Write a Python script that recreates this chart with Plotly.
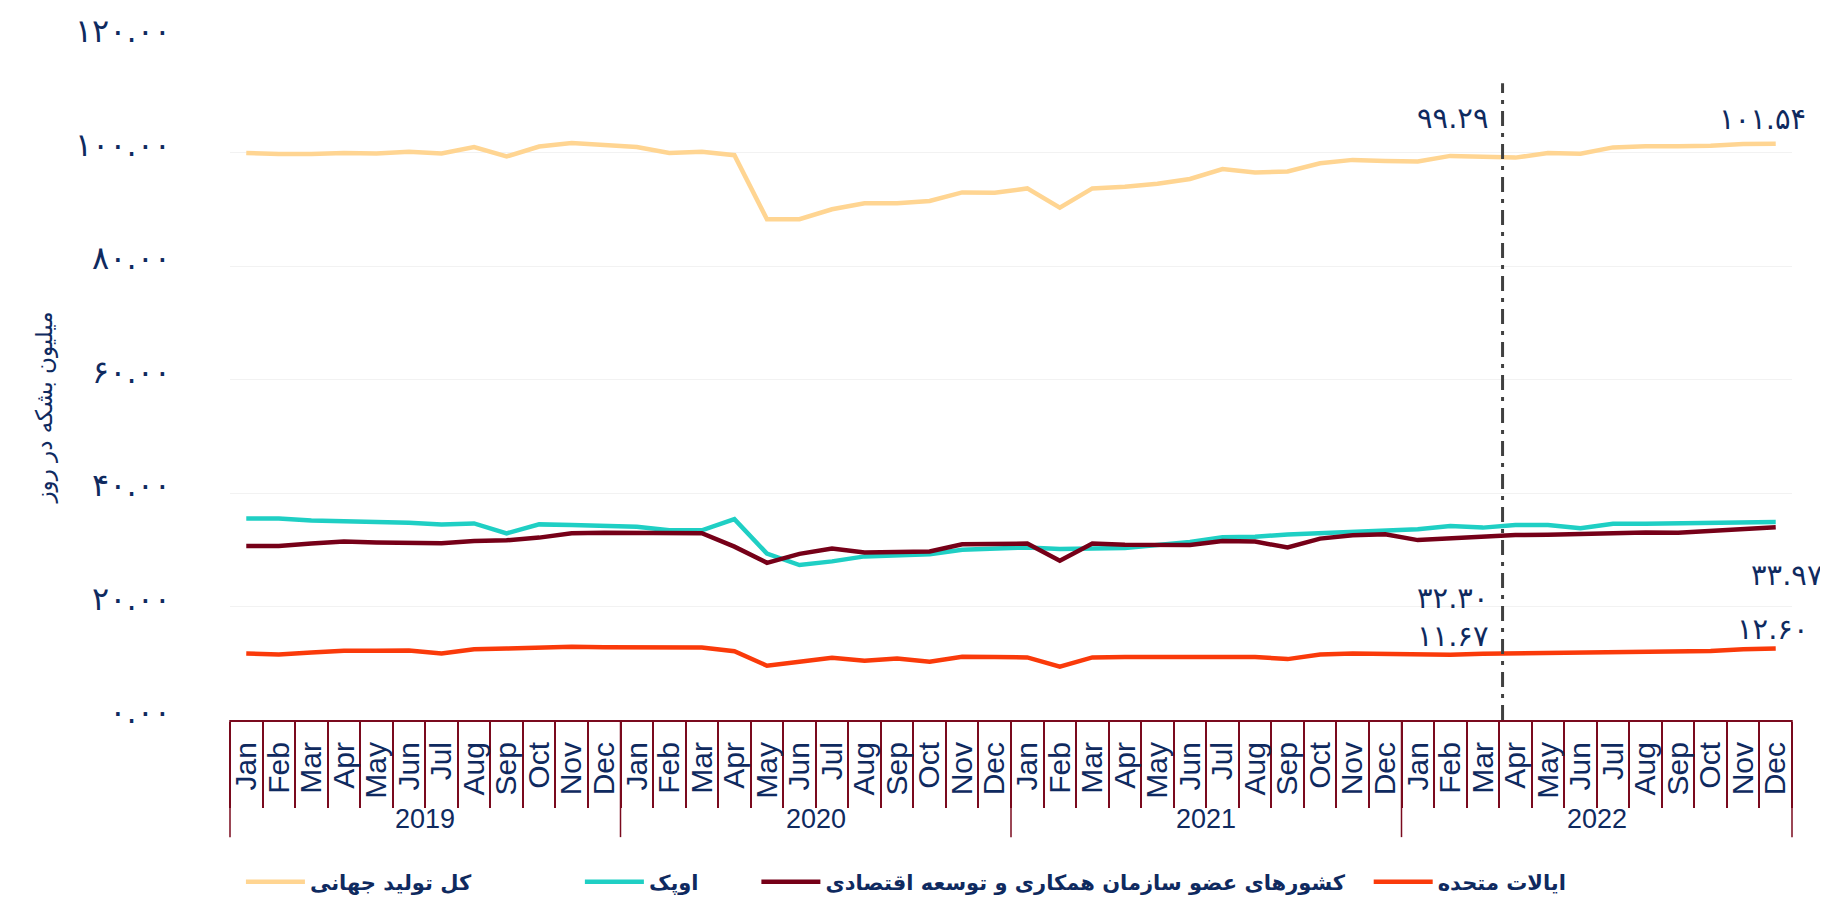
import plotly.graph_objects as go

years = ["2019", "2020", "2021", "2022"]
months = ["Jan", "Feb", "Mar", "Apr", "May", "Jun",
          "Jul", "Aug", "Sep", "Oct", "Nov", "Dec"]

world = [99.93, 99.72, 99.72, 99.93, 99.83, 100.13, 99.83, 100.95, 99.30, 101.05, 101.66, 101.36,
         100.95, 99.93, 100.13, 99.52, 88.24, 88.24, 90.00, 91.04, 91.04, 91.45, 92.97, 92.90,
         93.67, 90.28, 93.67, 93.96, 94.50, 95.34, 97.07, 96.46, 96.66, 98.09, 98.70, 98.50,
         98.40, 99.40, 99.29, 99.10, 99.90, 99.80, 100.90, 101.10, 101.10, 101.20, 101.50, 101.54]
opec = [35.52, 35.52, 35.17, 35.05, 34.76, 34.76, 34.47, 34.64, 32.89, 34.47, 34.35, 34.29,
        34.06, 33.42, 33.42, 35.40, 29.32, 27.30, 27.95, 28.83, 29.00, 29.20, 30.00, 30.15,
        30.40, 30.15, 30.20, 30.30, 30.85, 31.35, 32.20, 32.30, 32.70, 32.90, 33.13, 33.40,
        33.60, 34.20, 33.90, 34.35, 34.35, 33.80, 34.60, 34.60, 34.70, 34.75, 34.85, 34.90]
oecd = [30.68, 30.68, 31.09, 31.44, 31.26, 31.20, 31.15, 31.55, 31.67, 32.14, 32.90, 33.00,
        33.00, 32.90, 32.90, 30.55, 27.70, 29.27, 30.20, 29.50, 29.55, 29.70, 30.97, 31.00,
        31.08, 28.05, 31.10, 30.90, 30.90, 30.85, 31.55, 31.44, 30.39, 31.96, 32.54, 32.72,
        31.70, 32.00, 32.30, 32.60, 32.65, 32.85, 32.95, 33.05, 33.00, 33.30, 33.75, 33.97]
us = [11.72, 11.55, 11.90, 12.19, 12.22, 12.25, 11.72, 12.48, 12.60, 12.77, 12.89, 12.83,
      12.77, 12.77, 12.77, 12.13, 9.57, 10.27, 10.97, 10.44, 10.85, 10.27, 11.14, 11.08,
      11.02, 9.39, 11.02, 11.10, 11.10, 11.14, 11.14, 11.10, 10.73, 11.55, 11.72, 11.60,
      11.43, 11.50, 11.67, 11.75, 11.80, 11.85, 11.95, 12.05, 12.10, 12.15, 12.45, 12.60]

series_names = ["کل تولید جهانی", "اوپک",
                "کشورهای عضو سازمان همکاری و توسعه اقتصادی", "ایالات متحده"]
y_ticks = [0, 20, 40, 60, 80, 100, 120]
y_title = "میلیون بشکه در روز"

FA = str.maketrans("0123456789", "۰۱۲۳۴۵۶۷۸۹")


def fa(v):
    return f"{v:.2f}".translate(FA)


NAVY = "#0f2a5f"
MAROON = "#7a0a1e"
colors = ["#ffd592", "#1fcfc4", "#760018", "#fa3a0a"]
series = [world, opec, oecd, us]
legend_x = [0.007, 0.224, 0.337, 0.729]

# one slot per month, labelled with the month name; years are written under them
month_labels = [m for _ in years for m in months]
x_idx = list(range(len(month_labels)))
n_m = len(months)

fig = go.Figure()
for i, (name, vals, col) in enumerate(zip(series_names, series, colors)):
    fig.add_trace(
        go.Scatter(
            x=x_idx,
            y=vals,
            mode="lines",
            name=name,
            showlegend=True,
            line=dict(color=col, width=4.5),
            legend="legend" if i == 0 else f"legend{i + 1}",
        )
    )

# year row: labels and the dividers between years
for j, yr in enumerate(years):
    fig.add_annotation(x=j * n_m + (n_m - 1) / 2, xref="x", y=-0.146, yref="paper",
                       text=yr, showarrow=False, yanchor="middle",
                       font=dict(family="Liberation Sans", size=27, color=NAVY))
for j in range(1, len(years)):
    fig.add_shape(type="line", xref="x", yref="paper", x0=j * n_m - 0.5, x1=j * n_m - 0.5,
                  y0=0, y1=-0.172, line=dict(color=MAROON, width=1.5))
for xe in (0, 1):
    fig.add_shape(type="line", xref="paper", yref="paper", x0=xe, x1=xe,
                  y0=0, y1=-0.172, line=dict(color=MAROON, width=1.5))

# vertical marker between Mar and Apr 2022
fig.add_shape(type="line", xref="paper", yref="paper", x0=0.8147, x1=0.8147,
              y0=0, y1=0.935, line=dict(color="#404040", width=3, dash="15px,7px,4px,7px"))

# value labels
ann_font = dict(family="DejaVu Sans", size=29, color=NAVY)
labels = [
    (world, 38, 0.807, 6.8),
    (oecd, 38, 0.807, -10.8),
    (us, 38, 0.807, 3.2),
    (world, 47, 1.010, 4.4),
    (oecd, 47, 1.021, -8.5),
    (us, 47, 1.012, 3.4),
]
for vals, idx, xp, off in labels:
    fig.add_annotation(x=xp, xref="paper", xanchor="right", y=vals[idx] + off, yref="y",
                       yanchor="middle", text=fa(vals[idx]), showarrow=False, font=ann_font)

# y axis title
fig.add_annotation(x=-0.119, y=0.459, xref="paper", yref="paper", text=y_title,
                   textangle=-90, showarrow=False, xanchor="center", yanchor="middle",
                   font=dict(family="DejaVu Sans", size=23, color=NAVY))

leg_common = dict(orientation="h", yanchor="middle", y=-0.238, xanchor="left",
                  bgcolor="rgba(0,0,0,0)", itemwidth=59,
                  font=dict(family="DejaVu Sans", size=21, color=NAVY, weight="bold"))
fig.update_layout(
    width=1828,
    height=906,
    paper_bgcolor="white",
    plot_bgcolor="white",
    showlegend=True,
    margin=dict(l=222, r=44, t=31, b=186),
    legend=dict(x=legend_x[0], **leg_common),
    legend2=dict(x=legend_x[1], **leg_common),
    legend3=dict(x=legend_x[2], **leg_common),
    legend4=dict(x=legend_x[3], **leg_common),
)
fig.update_xaxes(
    range=[-0.5, len(month_labels) - 0.5],
    automargin=False,
    tickmode="array", tickvals=x_idx, ticktext=month_labels,
    ticks="",
    ticklabelstandoff=8,
    tickangle=-90,
    tickfont=dict(family="Liberation Sans", size=30, color=NAVY),
    showline=True, linecolor=MAROON, linewidth=2,
    minor=dict(tickmode="linear", tick0=-0.5, dtick=1, ticks="outside", ticklen=86,
               tickcolor=MAROON, tickwidth=1.5, showgrid=False),
    showgrid=False, zeroline=False,
)
fig.update_yaxes(
    range=[0, 120],
    automargin=False,
    tickvals=y_ticks,
    ticktext=[fa(v) for v in y_ticks],
    tickfont=dict(family="DejaVu Sans", size=32, color=NAVY),
    ticklabelstandoff=58,
    ticklabelshift=-8,
    ticklabeloverflow="allow",
    showgrid=True, gridcolor="#f2f2f2", gridwidth=1,
    zeroline=False, showline=False,
)

fig.write_html("out.html")
